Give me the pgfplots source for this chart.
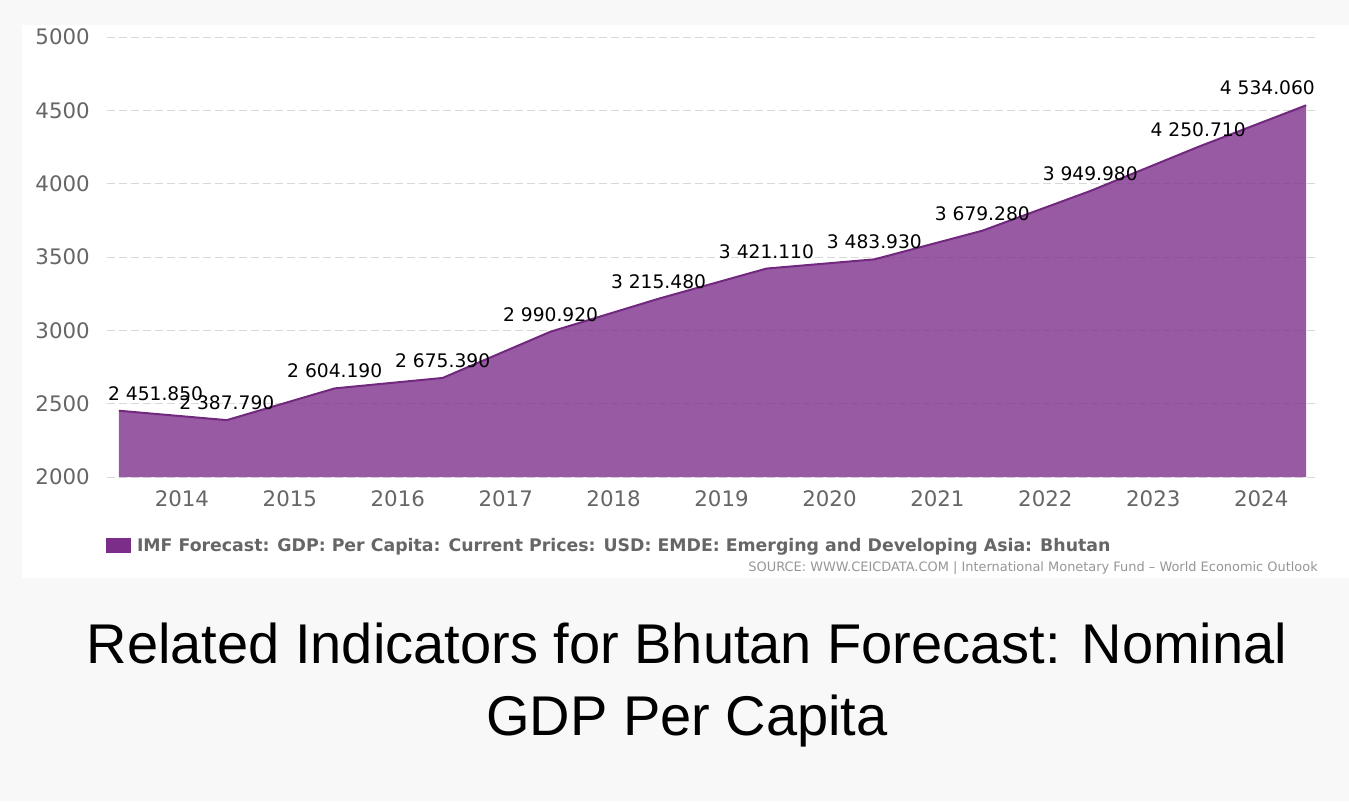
\documentclass[border=0pt]{standalone}
\usepackage{fontspec}
\setmainfont{DejaVu Sans}
\newfontfamily\titlefont{Liberation Sans}
\usepackage{pgfplots}
\pgfplotsset{compat=1.18}
\definecolor{bgcol}{RGB}{248,248,248}
\definecolor{series}{RGB}{124,45,138}
\definecolor{linecol}{RGB}{115,40,128}
\definecolor{tickcol}{RGB}{102,102,102}
\definecolor{gridcol}{RGB}{216,216,216}
\definecolor{srccol}{RGB}{150,150,150}
\begin{document}
\begin{tikzpicture}[x=0.75pt,y=0.75pt]
\fill[bgcol] (0,0) rectangle (1349,801);
\fill[white] (22,223) rectangle (1349,776);
\begin{axis}[
  at={(80.25pt,243pt)}, anchor=south west,
  scale only axis, width=908.25pt, height=330pt,
  xmin=-0.11, xmax=11.11, ymin=2000, ymax=5000,
  axis line style={draw=none},
  major tick length=0pt,
  xtick={0.584,1.584,2.584,3.584,4.584,5.584,6.584,7.584,8.584,9.584,10.584},
  xticklabels={2014,2015,2016,2017,2018,2019,2020,2021,2022,2023,2024},
  ytick={2000,2500,3000,3500,4000,4500,5000},
  /pgf/number format/assume math mode=true,
  /pgf/number format/1000 sep={},
  ymajorgrids, grid style={gridcol, line width=0.75pt, dash pattern=on 6pt off 3pt},
  ticklabel style={font=\fontsize{16}{18}\selectfont, text=tickcol, inner sep=0pt},
  yticklabel style={anchor=east, xshift=-12.75pt},
  xticklabel style={anchor=center, yshift=-16pt},
  legend style={at={(-0.001,-0.1557)}, anchor=west, draw=none, fill=none, inner sep=0pt,
    font=\fontsize{13}{16}\selectfont\bfseries, text=tickcol,
    nodes={inner xsep=4.5pt}},
  legend cell align=left,
  legend image code/.code={\fill[series, fill opacity=1] (0pt,-5.6pt) rectangle (18.75pt,5.6pt);},
  clip=true,
]
\addplot[draw=none, fill=series, fill opacity=0.78, mark=none]
  coordinates {(0,2451.85) (1,2387.79) (2,2604.19) (3,2675.39) (4,2990.92) (5,3215.48)
               (6,3421.11) (7,3483.93) (8,3679.28) (9,3949.98) (10,4250.71) (11,4534.06)} \closedcycle;
\addlegendentry{IMF Forecast: GDP: Per Capita: Current Prices: USD: EMDE: Emerging and Developing Asia: Bhutan}
\addplot[draw=linecol, line width=1.5pt, mark=none, forget plot]
  coordinates {(0,2451.85) (1,2387.79) (2,2604.19) (3,2675.39) (4,2990.92) (5,3215.48)
               (6,3421.11) (7,3483.93) (8,3679.28) (9,3949.98) (10,4250.71) (11,4534.06)};
\end{axis}
\begin{axis}[
  at={(80.25pt,243pt)}, anchor=south west,
  scale only axis, width=908.25pt, height=330pt,
  xmin=-0.11, xmax=11.11, ymin=2000, ymax=5000,
  hide axis, clip=false,
  point meta=explicit symbolic,
  nodes near coords,
  every node near coord/.append style={font=\fontsize{14}{16}\selectfont, text=black, inner sep=0pt, yshift=7.5pt},
]
\addplot[draw=none, mark=none, nodes near coords style={anchor=south west, xshift=-8.25pt}]
  coordinates {(0,2451.85) [2 451.850]};
\addplot[draw=none, mark=none, nodes near coords style={anchor=south}]
  coordinates {(1,2387.79) [2 387.790] (2,2604.19) [2 604.190] (3,2675.39) [2 675.390]
               (4,2990.92) [2 990.920] (5,3215.48) [3 215.480] (6,3421.11) [3 421.110]
               (7,3483.93) [3 483.930] (8,3679.28) [3 679.280] (9,3949.98) [3 949.980]
               (10,4250.71) [4 250.710]};
\addplot[draw=none, mark=none, nodes near coords style={anchor=south east, xshift=6.75pt}]
  coordinates {(11,4534.06) [4 534.060]};
\end{axis}
\node[anchor=east, inner sep=0pt, text=srccol, font=\fontsize{9.7}{11}\selectfont] at (1318,233)
  {SOURCE: WWW.CEICDATA.COM | International Monetary Fund – World Economic Outlook};
\node[anchor=base, inner sep=0pt, font=\titlefont\fontsize{42}{50}\selectfont] at (687,138)
  {Related Indicators for Bhutan Forecast: Nominal};
\node[anchor=base, inner sep=0pt, font=\titlefont\fontsize{42}{50}\selectfont] at (687,66)
  {GDP Per Capita};
\end{tikzpicture}
\end{document}
